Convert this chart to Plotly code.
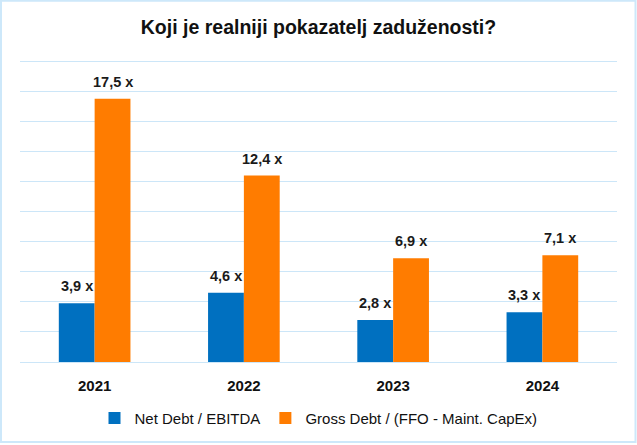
import plotly.graph_objects as go

years = ["2021", "2022", "2023", "2024"]
net_debt_ebitda = [3.9, 4.6, 2.8, 3.3]
gross_debt_ffo = [17.5, 12.4, 6.9, 7.1]
series_names = ["Net Debt / EBITDA", "Gross Debt / (FFO - Maint. CapEx)"]
title_text = "Koji je realniji pokazatelj zaduženosti?"

BLUE = "#0070C0"
ORANGE = "#FF7C00"
FONT = "Liberation Sans, Arial, sans-serif"

fig = go.Figure()
fig.add_trace(go.Bar(x=years, y=net_debt_ebitda, name=series_names[0],
                     marker=dict(color=BLUE, line=dict(width=0))))
fig.add_trace(go.Bar(x=years, y=gross_debt_ffo, name=series_names[1],
                     marker=dict(color=ORANGE, line=dict(width=0))))

def fmt(v):
    return f"{v:.1f}".replace(".", ",") + " x"

annotations = []
for i, v in enumerate(net_debt_ebitda):
    annotations.append(dict(x=i, y=v, xref="x", yref="y", text=fmt(v), showarrow=False,
                            xshift=-18, yshift=7, yanchor="bottom",
                            font=dict(family=FONT, size=14.5, color="#1a1a1a", weight="bold")))
for i, v in enumerate(gross_debt_ffo):
    annotations.append(dict(x=i, y=v, xref="x", yref="y", text=fmt(v), showarrow=False,
                            xshift=18, yshift=7, yanchor="bottom",
                            font=dict(family=FONT, size=14.5, color="#1a1a1a", weight="bold")))

fig.update_layout(
    width=637, height=445,
    margin=dict(l=20, r=20, t=60, b=82),
    paper_bgcolor="white", plot_bgcolor="white",
    title=dict(text=title_text, x=0.5, xanchor="center", y=1 - 27 / 445, yanchor="middle",
               font=dict(family=FONT, size=19.5, color="#111111", weight="bold")),
    barmode="group", bargap=0.52, bargroupgap=0,
    showlegend=True,
    legend=dict(orientation="h", x=0.5, xanchor="center", y=-0.182, yanchor="middle",
                font=dict(family=FONT, size=15, color="#111111"),
                itemwidth=30, traceorder="normal"),
    annotations=annotations,
    shapes=[dict(type="rect", xref="paper", yref="paper",
                 x0=-0.0318, x1=1.031, y0=-0.265, y1=1.196,
                 line=dict(color="#CDE8FA", width=2), layer="below")],
)
fig.update_xaxes(type="category", categoryorder="array", categoryarray=years,
                 range=[-0.5, len(years) - 0.5], automargin=False,
                 showgrid=False, showline=False, zeroline=False,
                 ticks="outside", ticklen=10, tickcolor="rgba(0,0,0,0)",
                 tickfont=dict(family=FONT, size=15, color="#111111", weight="bold"))
fig.update_yaxes(range=[0, 20.08], dtick=2, showgrid=True, gridcolor="#CCE6F8", gridwidth=1.3,
                 zeroline=True, zerolinecolor="#CCE6F8", zerolinewidth=1.3, automargin=False,
                 showticklabels=False, ticks="", showline=False)

fig.write_html("out.html", config={"displayModeBar": False},
               post_script="document.body.style.margin='0';document.body.style.overflow='hidden';")
